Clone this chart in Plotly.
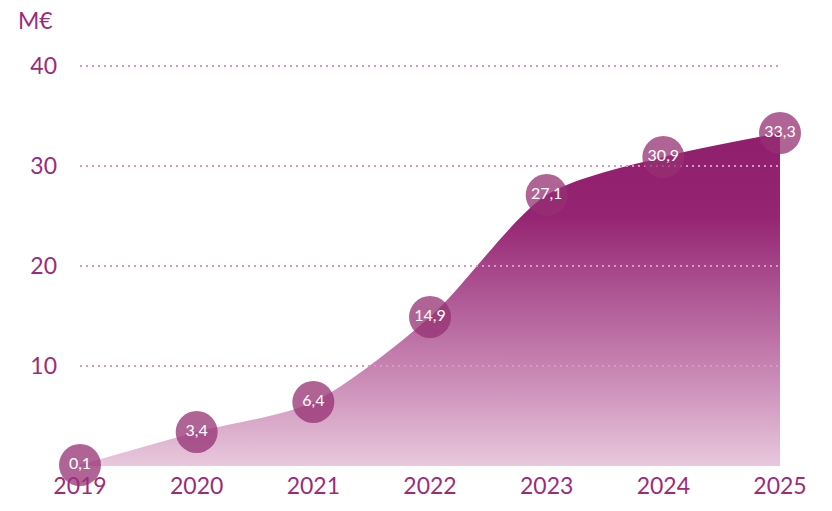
import plotly.graph_objects as go

years = [2019, 2020, 2021, 2022, 2023, 2024, 2025]
values = [0.1, 3.4, 6.4, 14.9, 27.1, 30.9, 33.3]
y_ticks = [10, 20, 30, 40]
unit_label = "M€"

text_color = "#9c2b7c"
font_family = "Lato, 'Open Sans', sans-serif"

labels = [f"{v:.1f}".replace(".", ",") for v in values]

fig = go.Figure()

# gradient area
fig.add_trace(go.Scatter(
    x=years, y=values, mode="lines", line=dict(width=0, shape="spline", smoothing=0.8),
    fill="tozeroy",
    fillgradient=dict(
        type="vertical", start=0, stop=max(values),
        colorscale=[[0, "#e8c8dc"], [0.3, "#c683b1"], [0.55, "#aa4f8f"],
                    [0.75, "#952472"], [1, "#8f1f6d"]],
    ),
    hoverinfo="skip", showlegend=False,
))

# dotted gridlines above the area
for v in y_ticks:
    fig.add_trace(go.Scatter(
        x=[years[0], years[-1]], y=[v, v], mode="lines",
        line=dict(color="#d49ac3", width=2, dash="2px,4px"),
        hoverinfo="skip", showlegend=False,
    ))

# markers with labels
fig.add_trace(go.Scatter(
    x=years, y=values, mode="markers+text", text=labels,
    textposition="middle center",
    textfont=dict(color="white", size=16, family=font_family),
    marker=dict(size=42, color="rgba(150,48,115,0.75)", line=dict(width=0)),
    cliponaxis=False, showlegend=False, hoverinfo="x+y",
))

fig.update_layout(
    width=832, height=511,
    margin=dict(l=80, r=52, t=46, b=45),
    paper_bgcolor="white", plot_bgcolor="white",
    font=dict(family=font_family, color=text_color, size=23),
    xaxis=dict(range=[years[0], years[-1]], tickvals=years, showgrid=False,
               zeroline=False, showline=False, ticks="", ticklabelstandoff=4,
               tickfont=dict(size=23, color=text_color)),
    yaxis=dict(range=[0, 42], tickvals=y_ticks, showgrid=False, zeroline=False,
               showline=False, ticks="", ticklabelstandoff=22,
               tickfont=dict(size=23, color=text_color)),
    annotations=[dict(text=unit_label, xref="paper", yref="paper",
                      x=(35 - 80) / 700, y=(466 - 20) / 420,
                      xanchor="center", yanchor="middle", showarrow=False,
                      font=dict(size=23, color=text_color, family=font_family))],
)

fig.write_html("out.html")
